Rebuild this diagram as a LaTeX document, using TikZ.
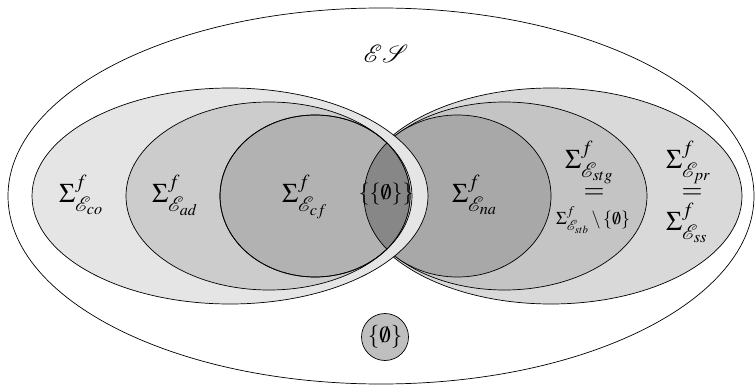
\documentclass[tikz,border=0pt]{standalone}
\usepackage{mathptmx}
\usepackage{mathrsfs}
\definecolor{cco}{gray}{0.90}
\definecolor{cad}{gray}{0.80}
\definecolor{ccf}{gray}{0.70}
\definecolor{css}{gray}{0.85}
\definecolor{cstg}{gray}{0.77}
\definecolor{cna}{gray}{0.66}
\definecolor{clens}{gray}{0.53}
\definecolor{cempty}{gray}{0.75}
\tikzset{
  setline/.style={draw=black, line width=0.7pt},
  biglab/.style={anchor=base west, inner sep=0pt, font=\fontsize{27}{30}\selectfont},
  smalllab/.style={anchor=base west, inner sep=0pt, font=\fontsize{18}{22}\selectfont},
}
\begin{document}
\begin{tikzpicture}[x=1pt,y=-1pt]
\useasboundingbox (0,0) rectangle (755,385);
% outer set
\draw[setline, fill=white] (381,196) ellipse [x radius=373pt, y radius=188pt];
% right group
\draw[setline, fill=css] (551,196) ellipse [x radius=191pt, y radius=108pt];
\draw[setline, fill=cstg] (504.5,196) ellipse [x radius=142.5pt, y radius=94pt];
\draw[setline, fill=cna] (457.5,196) ellipse [x radius=93.5pt, y radius=81pt];
% left group
\draw[setline, fill=cco] (230,196) ellipse [x radius=198pt, y radius=108pt];
\draw[setline, fill=cad] (269,196) ellipse [x radius=143pt, y radius=94pt];
\draw[setline, fill=ccf] (315,196) ellipse [x radius=95pt, y radius=81pt];
% lens
\begin{scope}
  \clip (315,196) ellipse [x radius=95pt, y radius=81pt];
  \draw[setline, fill=clens] (457.5,196) ellipse [x radius=93.5pt, y radius=81pt];
\end{scope}
\draw[setline] (315,196) ellipse [x radius=95pt, y radius=81pt];
% empty set
\node[circle, setline, fill=cempty, minimum size=47pt, inner sep=0pt, font=\fontsize{23}{26}\selectfont] (empty) at (385,337) {$\{\emptyset\}$};
% labels
\node[anchor=base, inner sep=0pt, font=\fontsize{25}{30}\selectfont] (es) at (386,63) {$\mathscr{E}\mathscr{S}$};
\node[biglab] (lco) at (59,202) {$\Sigma^f_{\mathscr{E}_{co}}$};
\node[biglab] (lad) at (152,202) {$\Sigma^f_{\mathscr{E}_{ad}}$};
\node[biglab] (lcf) at (282,202) {$\Sigma^f_{\mathscr{E}_{cf}}$};
\node[biglab] (lna) at (452,202) {$\Sigma^f_{\mathscr{E}_{na}}$};
\node[anchor=center, inner sep=0pt, font=\fontsize{22}{26}\selectfont] (lens) at (386,194) {$\{\{\emptyset\}\}$};
\node[biglab] (lstg) at (565,168) {$\Sigma^f_{\mathscr{E}_{stg}}$};
\node[anchor=center, inner sep=0pt, font=\fontsize{27}{30}\selectfont] (eqa) at (594,194) {$=$};
\node[smalllab] (lstb) at (556,224) {$\Sigma^f_{\mathscr{E}_{stb}}\setminus\{\emptyset\}$};
\node[biglab] (lpr) at (666,168) {$\Sigma^f_{\mathscr{E}_{pr}}$};
\node[anchor=center, inner sep=0pt, font=\fontsize{27}{30}\selectfont] (eqb) at (692,194) {$=$};
\node[biglab] (lss) at (666,230) {$\Sigma^f_{\mathscr{E}_{ss}}$};
\end{tikzpicture}
\end{document}
